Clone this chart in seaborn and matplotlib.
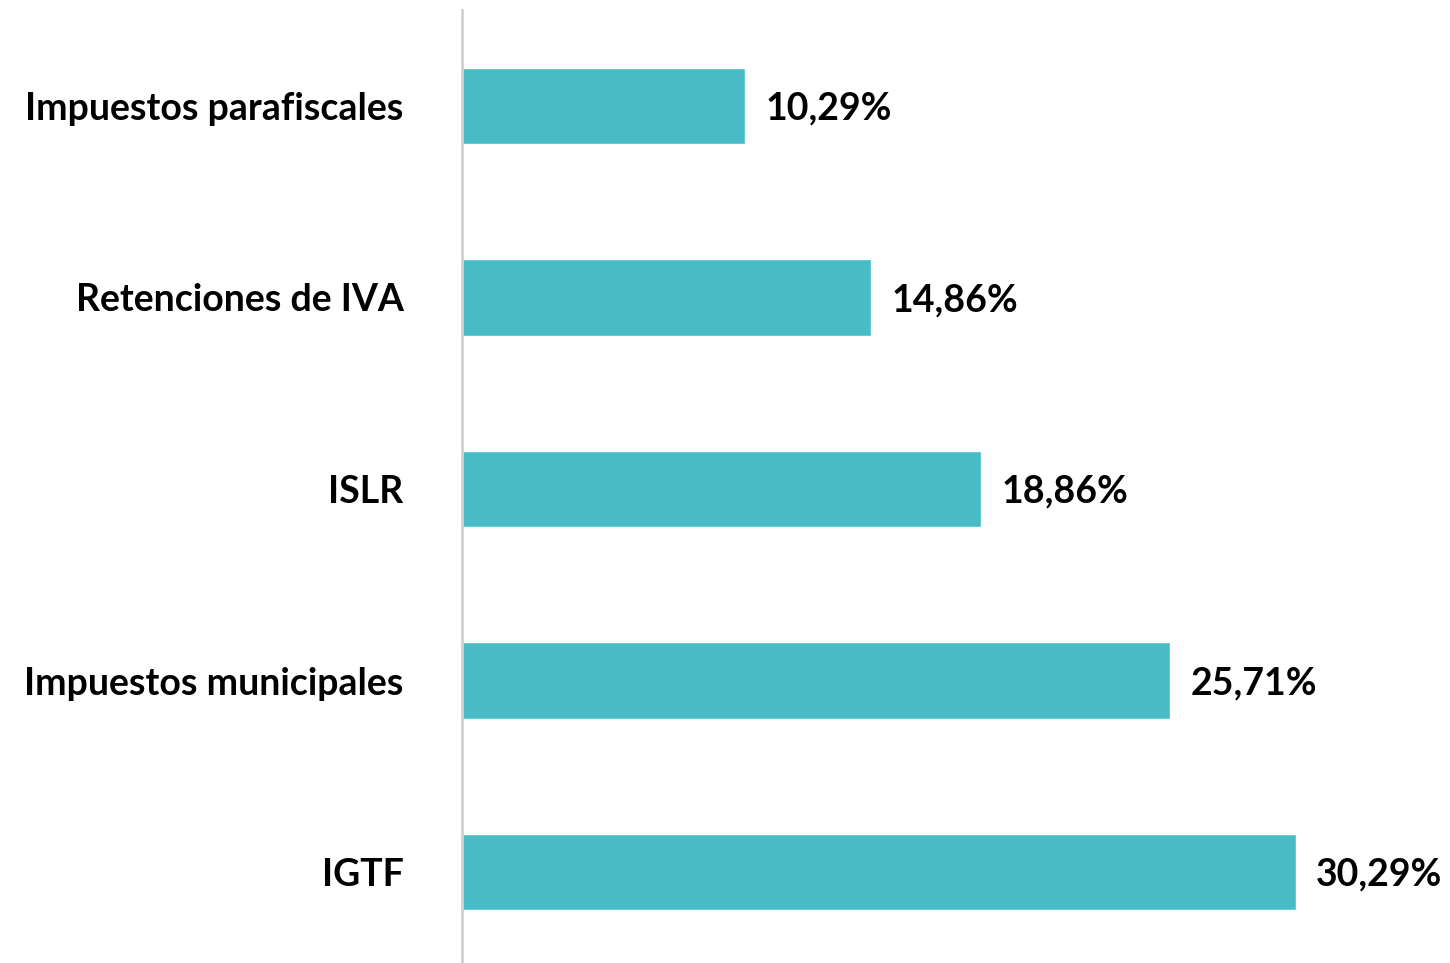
import matplotlib
matplotlib.use("Agg")
import pandas as pd
import seaborn as sns
import matplotlib.pyplot as plt

sns.set_style("white")
plt.rcParams['font.family'] = ['Lato', 'DejaVu Sans']

categorias = ["Impuestos parafiscales", "Retenciones de IVA", "ISLR",
              "Impuestos municipales", "IGTF"]
porcentajes = [10.29, 14.86, 18.86, 25.71, 30.29]
etiquetas = ["10,29%", "14,86%", "18,86%", "25,71%", "30,29%"]

df = pd.DataFrame({"categoria": categorias, "valor": porcentajes})

fig = plt.figure(figsize=(14.5, 9.63), dpi=100)
ax = fig.add_axes([0.3186, -0.005, 0.6814, 0.9945])

sns.barplot(data=df, x="valor", y="categoria", orient="h", color="#48BCC6",
            saturation=1, width=0.4, ax=ax)

# etiquetas de valor al final de cada barra
for i, (v, t) in enumerate(zip(porcentajes, etiquetas)):
    ax.text(v + 0.75, i + 0.015, t, va="center", ha="left", fontsize=27,
            fontweight="bold", color="black")

ax.set_xlim(0, 35.9)
ax.set_ylim(4.5, -0.5)
ax.set_xlabel("")
ax.set_ylabel("")
ax.set_xticks([])
ax.tick_params(axis="y", length=0, pad=42)
for lbl in ax.get_yticklabels():
    lbl.set_fontsize(27)
    lbl.set_fontweight("bold")
    lbl.set_color("black")

for s in ["top", "right", "bottom"]:
    ax.spines[s].set_visible(False)
ax.spines["left"].set_color("#D0D0D0")
ax.spines["left"].set_linewidth(2)

fig.savefig("out.png", dpi=100)
